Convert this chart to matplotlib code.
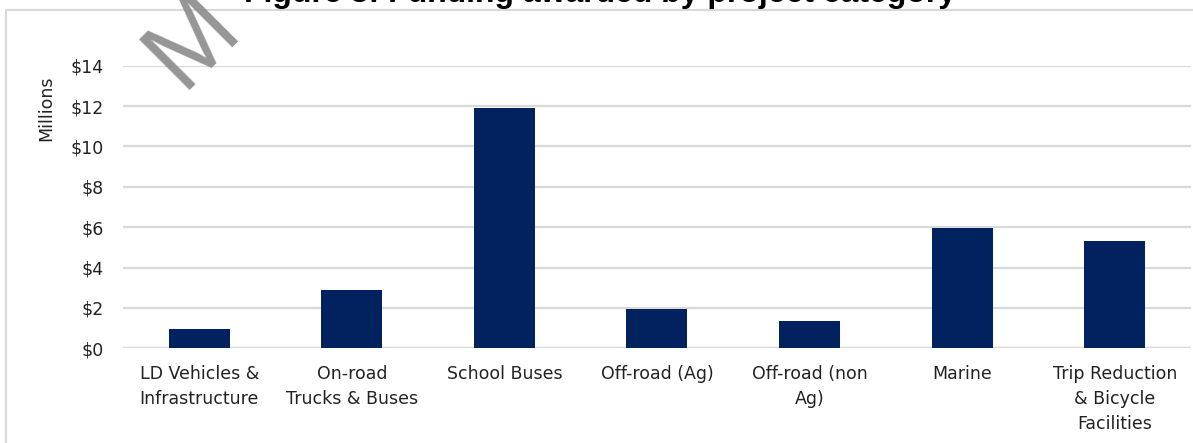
import matplotlib.pyplot as plt
from matplotlib.patches import Rectangle

# Data (millions of dollars)
categories = ['LD Vehicles &\nInfrastructure', 'On-road\nTrucks & Buses', 'School Buses',
              'Off-road (Ag)', 'Off-road (non\nAg)', 'Marine',
              'Trip Reduction\n& Bicycle\nFacilities']
funding = [0.96, 2.88, 11.9, 1.94, 1.35, 5.94, 5.29]
yticks = [0, 2, 4, 6, 8, 10, 12, 14]
ytick_labels = ['$' + str(v) for v in yticks]

bar_color = '#02215f'
grid_color = '#d9d9d9'

fig = plt.figure(figsize=(11.93, 4.43), dpi=100)
ax = fig.add_axes([0.1031, 0.2138, 0.8952, 0.6380])

x = range(len(categories))
ax.bar(x, funding, width=0.4, color=bar_color, zorder=3)

ax.set_xlim(-0.5, len(categories) - 0.5)
ax.set_ylim(0, 14)
ax.set_yticks(yticks)
ax.set_yticklabels(ytick_labels)
ax.set_xticks(list(x))
ax.set_xticklabels(categories, linespacing=1.5)
ax.tick_params(axis='both', length=0, labelsize=12.5, colors='#222222')
ax.tick_params(axis='y', pad=14)
ax.tick_params(axis='x', pad=12)
ax.yaxis.grid(True, color=grid_color, linewidth=1.6, zorder=0)
for s in ax.spines.values():
    s.set_visible(False)
ax.axhline(0, color=grid_color, linewidth=1.6, zorder=1)
ax.set_ylabel('Millions', fontsize=12.5, color='#222222')
ax.yaxis.set_label_coords(-0.063, 0.85)

# chart frame
fig.patches.append(Rectangle((6 / 1193, -0.1), 1.2, 1 - 10 / 443 + 0.1,
                             transform=fig.transFigure, fill=False,
                             edgecolor=grid_color, linewidth=1.5))

# title (cut off at the top in the source)
fig.text(0.503, 1 - 2 / 443, 'Figure 8: Funding awarded by project category',
         ha='center', va='baseline', fontsize=23, fontweight='bold',
         family='Liberation Sans', color='black')

# watermark fragment
fig.text(182 / 1193, 1 - 90 / 443, 'M', rotation=45, fontsize=74,
         family='Liberation Sans', color='#8a8a8a',
         alpha=0.9, ha='left', va='baseline', rotation_mode='anchor')

fig.savefig('out.png', dpi=100)
